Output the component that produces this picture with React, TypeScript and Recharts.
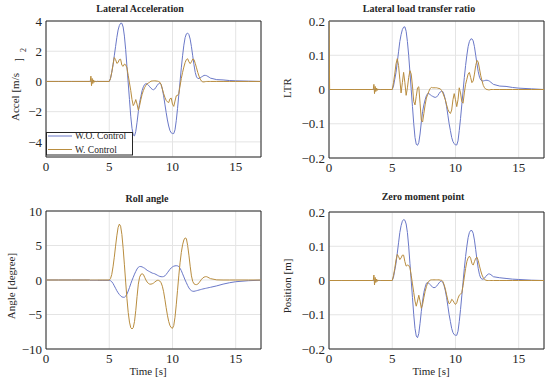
import { LineChart, Line, XAxis, YAxis, CartesianGrid, ReferenceArea } from 'recharts'

// time axis [s]: coarse before the manoeuvre, fine around the wiggles and the lane changes
const time = [
  0, 0.05, 1, 2, 3, 3.45, 3.5, 3.55, 3.6, 3.65, 3.7, 3.75, 3.8, 3.85, 3.9, 3.95, 4.0, 4.05, 4.1, 4.2, 4.5,
  5.0, 5.1, 5.2, 5.3, 5.4, 5.5, 5.6, 5.7, 5.8, 5.9,
  6.0, 6.1, 6.2, 6.3, 6.4, 6.5, 6.6, 6.7, 6.8, 6.9,
  7.0, 7.1, 7.2, 7.3, 7.4, 7.5, 7.6, 7.7, 7.8, 7.9,
  8.0, 8.1, 8.2, 8.3, 8.4, 8.5, 8.6, 8.7, 8.8, 8.9,
  9.0, 9.1, 9.2, 9.3, 9.4, 9.5, 9.6, 9.7, 9.8, 9.9,
  10.0, 10.1, 10.2, 10.3, 10.4, 10.5, 10.6, 10.7, 10.8, 10.9,
  11.0, 11.1, 11.2, 11.3, 11.4, 11.5, 11.6, 11.7, 11.8, 11.9,
  12.0, 12.1, 12.2, 12.3, 12.4, 12.5, 12.6, 12.7, 12.8, 12.9,
  13.0, 13.5, 14, 14.5, 15, 16, 17,
]

// lateral acceleration [m/s^2]
const accelWo = [
  0, 0, 0, 0, 0, 0, 0, 0, 0, 0, 0, 0, 0, 0, 0, 0, 0, 0, 0, 0, 0,
  0, 0.2, 0.6, 1.1, 1.7, 2.3, 2.9, 3.4, 3.7, 3.85,
  3.85, 3.6, 3.0, 2.1, 1.0, -0.1, -1.2, -2.3, -3.1, -3.55,
  -3.6, -3.3, -2.7, -2.0, -1.4, -1.0, -0.6, -0.35, -0.2, -0.15,
  -0.17, -0.25, -0.35, -0.45, -0.52, -0.55, -0.5, -0.38, -0.25, -0.15,
  -0.1, -0.2, -0.5, -0.95, -1.5, -2.05, -2.55, -2.95, -3.25, -3.4,
  -3.45, -3.45, -3.2, -2.6, -1.8, -0.9, 0.0, 0.9, 1.7, 2.4,
  2.9, 3.15, 3.2, 3.1, 2.8, 2.3, 1.7, 1.1, 0.6, 0.3,
  0.2, 0.2, 0.25, 0.3, 0.35, 0.4, 0.4, 0.38, 0.33, 0.28,
  0.22, 0.12, 0.1, 0.06, 0.04, 0.02, 0,
]
const accelW = [
  0, 0, 0, 0, 0, 0, 0, 0.35, -0.28, 0.2, -0.14, 0.1, -0.06, 0.04, -0.03, 0.02, -0.01, 0.01, 0, 0, 0,
  0, 0.2, 0.6, 1.1, 1.58, 1.45, 1.2, 1.25, 1.45, 1.47,
  1.07, 1.0, 1.15, 1.1, 0.9, 0.4, -0.1, -0.6, -1.2, -1.6,
  -1.45, -1.2, -1.5, -1.9, -1.6, -1.2, -0.85, -0.6, -0.4, -0.25,
  -0.15, -0.1, -0.05, 0.02, 0.03, 0.04, 0.04, 0.03, 0.02, 0,
  -0.05, -0.2, -0.5, -0.8, -1.05, -1.25, -1.35, -1.4, -1.15, -1.1,
  -1.5, -1.65, -1.3, -0.95, -0.93, -0.8, -0.3, 0.2, 0.6, 0.95,
  1.25, 1.45, 1.5, 1.3, 1.18, 1.3, 1.48, 1.45, 1.2, 0.9,
  0.6, 0.35, 0.15, 0.02, -0.03, -0.03, -0.01, 0, 0, 0,
  0, 0, 0, 0, 0, 0, 0,
]

// lateral load transfer ratio
const ltrWo = [
  0, 0, 0, 0, 0, 0, 0, 0, 0, 0, 0, 0, 0, 0, 0, 0, 0, 0, 0, 0, 0,
  0, 0.01, 0.03, 0.05, 0.08, 0.11, 0.14, 0.16, 0.175, 0.182,
  0.183, 0.17, 0.14, 0.1, 0.05, 0.0, -0.05, -0.1, -0.14, -0.16,
  -0.163, -0.155, -0.13, -0.095, -0.065, -0.045, -0.03, -0.018, -0.012, -0.012,
  -0.015, -0.018, -0.02, -0.022, -0.023, -0.022, -0.018, -0.012, -0.007, -0.005,
  -0.006, -0.015, -0.03, -0.05, -0.075, -0.1, -0.12, -0.14, -0.152, -0.158,
  -0.162, -0.162, -0.15, -0.12, -0.085, -0.045, -0.005, 0.035, 0.07, 0.1,
  0.125, 0.14, 0.147, 0.148, 0.142, 0.125, 0.1, 0.075, 0.052, 0.036,
  0.028, 0.025, 0.025, 0.026, 0.027, 0.027, 0.026, 0.024, 0.021, 0.018,
  0.015, 0.01, 0.009, 0.006, 0.004, 0.002, 0,
]
const ltrW = [
  0.2, 0, 0, 0, 0, 0, 0, 0.015, -0.012, 0.009, -0.006, 0.004, -0.003, 0.002, -0.001, 0.001, 0, 0, 0, 0, 0,
  0, 0.02, 0.045, 0.075, 0.09, 0.07, 0.03, -0.01, 0.02, 0.05,
  0.02, -0.017, 0.005, 0.035, 0.055, 0.045, 0.01, -0.035, -0.045, -0.02,
  0.005, 0.008, -0.04, -0.09, -0.095, -0.07, -0.045, -0.025, -0.015, -0.005,
  0.003, 0.006, 0.005, 0.005, 0.005, 0.005, 0.004, 0.003, 0.002, -0.003,
  -0.01, -0.02, -0.03, -0.045, -0.058, -0.066, -0.07, -0.06, -0.03, -0.012,
  -0.03, -0.05, -0.03, 0.005, -0.01, -0.035, -0.04, -0.01, 0.015, 0.03,
  0.045, 0.05, 0.035, 0.02, 0.025, 0.045, 0.07, 0.085, 0.08, 0.06,
  0.04, 0.025, 0.012, 0.005, 0.001, 0, -0.001, -0.001, 0, 0,
  0, 0, 0, 0, 0, 0, 0,
]

// roll angle [degree]
const rollWo = [
  0, 0, 0, 0, 0, 0, -0.05, -0.05, -0.05, -0.05, -0.05, -0.05, -0.05, -0.05, -0.05, -0.05, -0.05, -0.05, -0.05, -0.05, -0.05,
  -0.05, -0.1, -0.25, -0.5, -0.85, -1.2, -1.55, -1.85, -2.1, -2.3,
  -2.45, -2.5, -2.5, -2.35, -2.05, -1.6, -1.1, -0.55, -0.05, 0.4,
  0.85, 1.25, 1.6, 1.85, 1.95, 1.95, 1.9, 1.8, 1.7, 1.55,
  1.4, 1.3, 1.2, 1.1, 1.0, 0.95, 0.9, 0.8, 0.7, 0.6,
  0.52, 0.48, 0.47, 0.5, 0.6, 0.8, 1.05, 1.3, 1.55, 1.75,
  1.9, 2.0, 2.05, 2.07, 2.05, 1.95, 1.7, 1.35, 0.9, 0.45,
  0.0, -0.4, -0.8, -1.15, -1.4, -1.55, -1.63, -1.64, -1.6, -1.55,
  -1.5, -1.45, -1.4, -1.35, -1.3, -1.26, -1.22, -1.18, -1.14, -1.1,
  -1.06, -0.85, -0.6, -0.4, -0.25, -0.1, -0.03,
]
const rollW = [
  0, 0, 0, 0, 0, 0, 0, 0, 0, 0, 0, 0, 0, 0, 0, 0, 0, 0, 0, 0, 0,
  0, 0.2, 0.8, 1.9, 3.3, 4.9, 6.4, 7.6, 8.1, 7.8,
  6.6, 4.6, 2.2, -0.3, -2.7, -4.7, -6.1, -6.9, -7.1, -6.9,
  -6.0, -4.4, -2.4, -0.6, 0.4, 0.8, 0.9, 0.8, 0.4, 0.0,
  -0.3, -0.5, -0.6, -0.6, -0.55, -0.45, -0.3, -0.15, -0.05, -0.05,
  -0.15, -0.4, -0.9, -1.7, -2.8, -4.0, -5.1, -6.0, -6.6, -6.9,
  -7.0, -6.6, -5.4, -3.6, -1.5, 0.6, 2.5, 4.0, 5.1, 5.8,
  6.1, 6.0, 5.0, 3.6, 2.0, 0.6, -0.2, -0.55, -0.65, -0.67,
  -0.6, -0.4, -0.15, 0.1, 0.3, 0.42, 0.48, 0.48, 0.4, 0.3,
  0.2, 0.02, 0, 0, 0, 0, 0,
]

// zero moment point position [m]
const zmpWo = [
  0, 0, 0, 0, 0, 0, 0, 0, 0, 0, 0, 0, 0, 0, 0, 0, 0, 0, 0, 0, 0,
  0, 0.01, 0.03, 0.05, 0.08, 0.11, 0.14, 0.16, 0.173, 0.178,
  0.176, 0.165, 0.14, 0.1, 0.05, 0.0, -0.05, -0.1, -0.14, -0.162,
  -0.167, -0.155, -0.125, -0.09, -0.06, -0.035, -0.02, -0.008, -0.006, -0.008,
  -0.012, -0.016, -0.02, -0.021, -0.02, -0.017, -0.012, -0.007, -0.003, -0.002,
  -0.005, -0.015, -0.03, -0.05, -0.075, -0.1, -0.12, -0.14, -0.152, -0.158,
  -0.16, -0.16, -0.148, -0.12, -0.085, -0.045, -0.005, 0.035, 0.07, 0.1,
  0.125, 0.14, 0.146, 0.146, 0.138, 0.118, 0.09, 0.06, 0.035, 0.017,
  0.007, 0.004, 0.004, 0.007, 0.012, 0.016, 0.019, 0.019, 0.017, 0.014,
  0.011, 0.008, 0.006, 0.004, 0.003, 0.001, 0,
]
const zmpW = [
  0, 0, 0, 0, 0, 0, 0, 0.016, -0.013, 0.009, -0.006, 0.004, -0.003, 0.002, -0.001, 0.001, 0, 0, 0, 0, 0,
  0, 0.015, 0.035, 0.06, 0.076, 0.07, 0.061, 0.066, 0.074, 0.074,
  0.055, 0.042, 0.045, 0.044, 0.037, 0.015, -0.01, -0.035, -0.06, -0.075,
  -0.06, -0.043, -0.06, -0.081, -0.07, -0.05, -0.032, -0.018, -0.007, -0.002,
  0.001, 0.002, 0.002, 0.002, 0.002, 0.002, 0.002, 0.002, 0.001, 0.001,
  -0.003, -0.012, -0.025, -0.042, -0.058, -0.068, -0.065, -0.055, -0.058, -0.065,
  -0.07, -0.065, -0.052, -0.043, -0.04, -0.036, -0.015, 0.01, 0.035, 0.055,
  0.066, 0.071, 0.065, 0.05, 0.045, 0.055, 0.065, 0.068, 0.058, 0.042,
  0.028, 0.016, 0.008, 0.003, 0.001, 0, 0, 0, 0, 0,
  0, 0, 0, 0, 0, 0, 0,
]

const xTicks = [0, 5, 10, 15]
const accelTicks = [-4, -2, 0, 2, 4]
const ratioTicks = [-0.2, -0.1, 0, 0.1, 0.2]
const rollTicks = [-10, -5, 0, 5, 10]

const data = time.map((t, i) => ({
  t,
  accelWo: accelWo[i],
  accelW: accelW[i],
  ltrWo: ltrWo[i],
  ltrW: ltrW[i],
  rollWo: rollWo[i],
  rollW: rollW[i],
  zmpWo: zmpWo[i],
  zmpW: zmpW[i],
}))

const BLUE = '#6a78c8'
const ORANGE = '#b98d3f'
const INK = '#262626'
const SERIF = 'Liberation Serif'

const fmt = (v: number) => (v < 0 ? `\u2212${Math.abs(v)}` : String(v))

type PanelProps = {
  left: number
  top: number
  yWidth: number
  xHeight: number
  mTop: number
  mRight: number
  domain: [number, number]
  ticks: number[]
  woKey: string
  wKey: string
}

function Panel({ left, top, yWidth, xHeight, mTop, mRight, domain, ticks, woKey, wKey }: PanelProps) {
  const tickStyle = { fill: INK, fontSize: 13, fontFamily: SERIF, style: { fontFamily: SERIF } }
  return (
    <div style={{ position: 'absolute', left, top }}>
      <LineChart width={275} height={191} data={data} margin={{ top: mTop, right: mRight, left: 0, bottom: 0 }}>
        <CartesianGrid stroke="#e4e4e4" ticks={ticks} />
        <XAxis
          dataKey="t"
          type="number"
          domain={[0, 17]}
          ticks={xTicks}
          allowDataOverflow
          height={xHeight}
          axisLine={false}
          tickLine={false}
          tickSize={4}
          tickMargin={1}
          tick={tickStyle}
        />
        <YAxis
          type="number"
          domain={domain}
          ticks={ticks}
          allowDataOverflow
          width={yWidth}
          axisLine={false}
          tickLine={false}
          tickSize={2}
          tickMargin={2}
          tick={tickStyle}
          tickFormatter={fmt}
        />
        <Line type="linear" dataKey={woKey} stroke={BLUE} strokeWidth={1} dot={false} isAnimationActive={false} />
        <Line type="linear" dataKey={wKey} stroke={ORANGE} strokeWidth={1} dot={false} isAnimationActive={false} />
        <ReferenceArea x1={0} x2={17} y1={domain[0]} y2={domain[1]} fill="none" stroke={INK} strokeWidth={1} />
      </LineChart>
    </div>
  )
}

export default function App() {
  const title = { fontSize: 10, fontWeight: 700, fill: INK, textAnchor: 'middle' as const, style: { fontFamily: SERIF } }
  const label = { fontSize: 11, fill: INK, textAnchor: 'middle' as const, style: { fontFamily: SERIF } }
  return (
    <div style={{ position: 'absolute', left: 0, top: 0, width: 550, height: 382, background: '#fff', fontFamily: SERIF }}>
      <Panel left={0} top={0} yWidth={46} xHeight={34} mTop={21} mRight={14} domain={[-5, 4]} ticks={accelTicks} woKey="accelWo" wKey="accelW" />
      <Panel left={275} top={0} yWidth={54} xHeight={33} mTop={21} mRight={6} domain={[-0.2, 0.2]} ticks={ratioTicks} woKey="ltrWo" wKey="ltrW" />
      <Panel left={0} top={191} yWidth={46} xHeight={33} mTop={20} mRight={14} domain={[-10, 10]} ticks={rollTicks} woKey="rollWo" wKey="rollW" />
      <Panel left={275} top={191} yWidth={54} xHeight={33} mTop={21} mRight={6} domain={[-0.2, 0.2]} ticks={ratioTicks} woKey="zmpWo" wKey="zmpW" />

      <svg width={550} height={382} style={{ position: 'absolute', left: 0, top: 0, pointerEvents: 'none' }}>
        <text x={140} y={12} {...title}>Lateral Acceleration</text>
        <text x={419} y={12} {...title}>Lateral load transfer ratio</text>
        <text x={147} y={202} {...title}>Roll angle</text>
        <text x={423} y={200} {...title}>Zero moment point</text>

        <text transform="translate(19,97) rotate(-90)" {...label}>Accel [m/s</text>
        <text transform="translate(21.5,60) rotate(-90)" {...label}>]</text>
        <text transform="translate(26,50) rotate(-90)" {...label} fontSize={8}>2</text>
        <text transform="translate(291,88) rotate(-90)" {...label}>LTR</text>
        <text transform="translate(15,286) rotate(-90)" {...label}>Angle [degree]</text>
        <text transform="translate(291,286) rotate(-90)" {...label}>Position [m]</text>
        <text x={148} y={375} {...label}>Time [s]</text>
        <text x={431} y={375} {...label}>Time [s]</text>

        <g>
          <rect x={46.5} y={132.5} width={86} height={22.5} fill="#fff" stroke={INK} strokeWidth={1} />
          <line x1={48} x2={72} y1={136} y2={136} stroke={BLUE} strokeWidth={1} />
          <text x={75} y={139} fontSize={9.5} fill={INK} style={{ fontFamily: SERIF }}>W.O. Control</text>
          <line x1={48} x2={72} y1={149.5} y2={149.5} stroke={ORANGE} strokeWidth={1} />
          <text x={75} y={152.5} fontSize={9.5} fill={INK} style={{ fontFamily: SERIF }}>W. Control</text>
        </g>
      </svg>
    </div>
  )
}
